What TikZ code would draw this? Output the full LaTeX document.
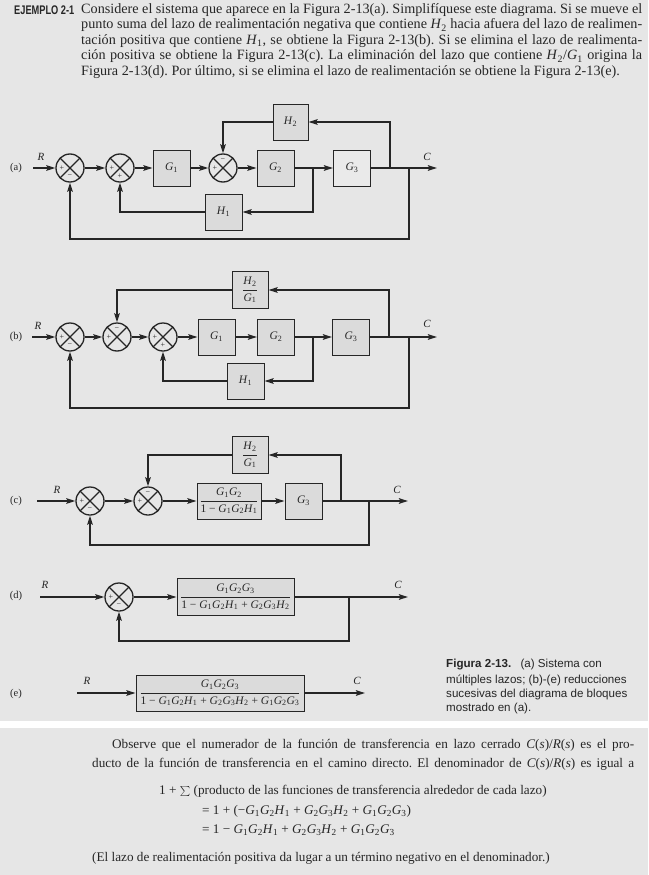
\documentclass[tikz,border=0pt]{standalone}
\usepackage{fontspec}
\setmainfont{Liberation Serif}
\setsansfont{Liberation Sans}
\usepackage{graphicx}
\usetikzlibrary{arrows.meta}
\frenchspacing

\definecolor{pagebg}{RGB}{230,230,230}
\definecolor{boxbg}{RGB}{219,219,219}
\definecolor{boxlt}{RGB}{234,234,234}
\definecolor{ink}{RGB}{38,38,38}

\newcommand{\tfG}[1]{\textit{G}\textsubscript{#1}}
\newcommand{\tfH}[1]{\textit{H}\textsubscript{#1}}
\newcommand{\tffrac}[2]{$\displaystyle\frac{\mbox{#1}}{\mbox{#2}}$}

\tikzset{
  wire/.style={draw=ink, line width=1.7pt},
  arr/.style={-{Stealth[length=9pt,width=5.5pt,inset=1.5pt]}},
  block/.style={draw=ink, line width=1pt, fill=boxbg, minimum width=37pt,
    minimum height=36pt, inner sep=1pt, text=ink, font=\fontsize{11.5}{13}\selectfont},
  sumnode/.style={circle, draw=ink, line width=1.3pt, minimum size=28pt, inner sep=0pt,
    path picture={\draw[ink,line width=1.1pt]
      (path picture bounding box.north west) -- (path picture bounding box.south east)
      (path picture bounding box.north east) -- (path picture bounding box.south west);}},
  sgn/.style={font=\fontsize{8}{8}\selectfont, inner sep=0pt, text=ink},
  tag/.style={font=\fontsize{10.5}{12}\selectfont, text=ink},
  sig/.style={font=\fontsize{11}{12}\selectfont\itshape, text=ink},
  txt/.style={anchor=west, inner sep=0pt, font=\fontsize{14.2}{15}\selectfont, text=ink},
  lowtxt/.style={anchor=west, inner sep=0pt, font=\fontsize{13.2}{15}\selectfont, text=ink},
  capline/.style={anchor=west, inner sep=0pt, font=\sffamily\fontsize{11.6}{14}\selectfont, text=ink},
}

\begin{document}
\begin{tikzpicture}[x=1pt,y=-1pt]
\fill[pagebg] (0,0) rectangle (648,875);
\fill[white] (0,721) rectangle (648,728);
\useasboundingbox (0,0) rectangle (648,875);

% enunciado
\node[txt,font=\fontsize{12.5}{15}\selectfont] (ej) at (14,10) {\scalebox{0.74}[1]{\sffamily\bfseries EJEMPLO 2-1}};
\node[txt] (t1) at (81,10) {\makebox[561pt][s]{Considere el sistema que aparece en la Figura 2-13(a). Simplifíquese este diagrama. Si se mueve el}};
\node[txt] (t2) at (81,25.5) {\makebox[561pt][s]{punto suma del lazo de realimentación negativa que contiene \tfH2 hacia afuera del lazo de realimen-}};
\node[txt] (t3) at (81,41) {\makebox[561pt][s]{tación positiva que contiene \tfH1, se obtiene la Figura 2-13(b). Si se elimina el lazo de realimenta-}};
\node[txt] (t4) at (81,56.5) {\makebox[561pt][s]{ción positiva se obtiene la Figura 2-13(c). La eliminación del lazo que contiene \tfH2/\tfG1 origina la}};
\node[txt] (t5) at (81,72) {Figura 2-13(d). Por último, si se elimina el lazo de realimentación se obtiene la Figura 2-13(e).};

% (a)
\node[tag] (a-tag) at (16,168) {(a)};
\coordinate (a-in) at (33,168);
\node[sumnode] (a-s1) at (70,168) {};
\node[sumnode] (a-s2) at (120,168) {};
\node[block] (a-g1) at (171.5,168) {\tfG1};
\node[sumnode] (a-s3) at (223,168) {};
\node[block] (a-g2) at (275.5,168) {\tfG2};
\node[block,fill=boxlt] (a-g3) at (352,168) {\tfG3};
\node[block,minimum width=35pt] (a-h2) at (290.5,122) {\tfH2};
\node[block] (a-h1) at (223.5,212) {\tfH1};
\coordinate (a-p1) at (313,168);
\coordinate (a-p2) at (390,168);
\coordinate (a-p3) at (409,168);
\coordinate (a-fb) at (409,239);
\coordinate (a-out) at (437,168);
\node[sig] (a-r) at (41,157) {R};
\node[sig] (a-c) at (427,157) {C};
\node[sgn] at ([xshift=-8pt]a-s1.center) {+};
\node[sgn] at ([yshift=-8pt]a-s1.center) {−};
\node[sgn] at ([xshift=-8pt]a-s2.center) {+};
\node[sgn] at ([yshift=-8pt]a-s2.center) {+};
\node[sgn] at ([xshift=-8pt]a-s3.center) {+};
\node[sgn] at ([yshift=8pt]a-s3.center) {−};
\draw[wire,arr] (a-in) -- (a-s1);
\draw[wire,arr] (a-s1) -- (a-s2);
\draw[wire,arr] (a-s2) -- (a-g1);
\draw[wire,arr] (a-g1) -- (a-s3);
\draw[wire,arr] (a-s3) -- (a-g2);
\draw[wire,arr] (a-g2) -- (a-g3);
\draw[wire,arr] (a-g3) -- (a-out);
\draw[wire,arr] (a-p2) |- (a-h2);
\draw[wire,arr] (a-h2) -| (a-s3);
\draw[wire,arr] (a-p1) |- (a-h1);
\draw[wire,arr] (a-h1) -| (a-s2);
\draw[wire,arr] (a-p3) -- (a-fb) -| (a-s1);

% (b)
\node[tag] (b-tag) at (16,337) {(b)};
\coordinate (b-in) at (32,337);
\node[sumnode] (b-s1) at (70,337) {};
\node[sumnode] (b-s2) at (117,337) {};
\node[sumnode] (b-s3) at (163,337) {};
\node[block] (b-g1) at (216.5,337) {\tfG1};
\node[block] (b-g2) at (276,337) {\tfG2};
\node[block] (b-g3) at (351,337) {\tfG3};
\node[block,minimum width=36pt,minimum height=37pt] (b-h2) at (250,290) {\tffrac{\tfH2}{\tfG1}};
\node[block] (b-h1) at (245.5,381) {\tfH1};
\coordinate (b-p1) at (313,337);
\coordinate (b-p2) at (389,337);
\coordinate (b-p3) at (409,337);
\coordinate (b-fb) at (409,408);
\coordinate (b-out) at (437,337);
\node[sig] (b-r) at (38,326) {R};
\node[sig] (b-c) at (427,324) {C};
\node[sgn] at ([xshift=-8pt]b-s1.center) {+};
\node[sgn] at ([yshift=-8pt]b-s1.center) {−};
\node[sgn] at ([xshift=-8pt]b-s2.center) {+};
\node[sgn] at ([yshift=8pt]b-s2.center) {−};
\node[sgn] at ([xshift=-8pt]b-s3.center) {+};
\node[sgn] at ([yshift=-8pt]b-s3.center) {+};
\draw[wire,arr] (b-in) -- (b-s1);
\draw[wire,arr] (b-s1) -- (b-s2);
\draw[wire,arr] (b-s2) -- (b-s3);
\draw[wire,arr] (b-s3) -- (b-g1);
\draw[wire,arr] (b-g1) -- (b-g2);
\draw[wire,arr] (b-g2) -- (b-g3);
\draw[wire,arr] (b-g3) -- (b-out);
\draw[wire,arr] (b-p2) |- (b-h2);
\draw[wire,arr] (b-h2) -| (b-s2);
\draw[wire,arr] (b-p1) |- (b-h1);
\draw[wire,arr] (b-h1) -| (b-s3);
\draw[wire,arr] (b-p3) -- (b-fb) -| (b-s1);

% (c)
\node[tag] (c-tag) at (16,501) {(c)};
\coordinate (c-in) at (37,501);
\node[sumnode] (c-s1) at (90,501) {};
\node[sumnode] (c-s2) at (148,501) {};
\node[block,minimum width=64pt] (c-g12) at (229,501) {\tffrac{\tfG1\tfG2}{1 − \tfG1\tfG2\tfH1}};
\node[block] (c-g3) at (303.5,501) {\tfG3};
\node[block,minimum width=36pt,minimum height=37pt] (c-h2) at (250,455) {\tffrac{\tfH2}{\tfG1}};
\coordinate (c-p2) at (341,501);
\coordinate (c-p3) at (369,501);
\coordinate (c-fb) at (369,545);
\coordinate (c-out) at (408,501);
\node[sig] (c-r) at (57,490) {R};
\node[sig] (c-c) at (397,490) {C};
\node[sgn] at ([xshift=-8pt]c-s1.center) {+};
\node[sgn] at ([yshift=-8pt]c-s1.center) {−};
\node[sgn] at ([xshift=-8pt]c-s2.center) {+};
\node[sgn] at ([yshift=8pt]c-s2.center) {−};
\draw[wire,arr] (c-in) -- (c-s1);
\draw[wire,arr] (c-s1) -- (c-s2);
\draw[wire,arr] (c-s2) -- (c-g12);
\draw[wire,arr] (c-g12) -- (c-g3);
\draw[wire,arr] (c-g3) -- (c-out);
\draw[wire,arr] (c-p2) |- (c-h2);
\draw[wire,arr] (c-h2) -| (c-s2);
\draw[wire,arr] (c-p3) -- (c-fb) -| (c-s1);

% (d)
\node[tag] (d-tag) at (16,596) {(d)};
\coordinate (d-in) at (40,597);
\node[sumnode] (d-s1) at (119,597) {};
\node[block,minimum width=117pt,minimum height=37pt] (d-g) at (235.5,597) {\tffrac{\tfG1\tfG2\tfG3}{1 − \tfG1\tfG2\tfH1 + \tfG2\tfG3\tfH2}};
\coordinate (d-p3) at (349,597);
\coordinate (d-fb) at (349,641);
\coordinate (d-out) at (408,597);
\node[sig] (d-r) at (45,585) {R};
\node[sig] (d-c) at (398,585) {C};
\node[sgn] at ([xshift=-8pt]d-s1.center) {+};
\node[sgn] at ([yshift=-8pt]d-s1.center) {−};
\draw[wire,arr] (d-in) -- (d-s1);
\draw[wire,arr] (d-s1) -- (d-g);
\draw[wire,arr] (d-g) -- (d-out);
\draw[wire,arr] (d-p3) -- (d-fb) -| (d-s1);

% (e)
\node[tag] (e-tag) at (16,694) {(e)};
\coordinate (e-in) at (77,693);
\node[block,minimum width=168pt] (e-g) at (220,693) {\tffrac{\tfG1\tfG2\tfG3}{1 − \tfG1\tfG2\tfH1 + \tfG2\tfG3\tfH2 + \tfG1\tfG2\tfG3}};
\coordinate (e-out) at (365,693);
\node[sig] (e-r) at (87,681) {R};
\node[sig] (e-c) at (357,681) {C};
\draw[wire,arr] (e-in) -- (e-g);
\draw[wire,arr] (e-g) -- (e-out);

% pie de figura
\node[capline] (f1) at (446,665) {\textbf{Figura 2-13.}\hspace{0.8em}(a) Sistema con};
\node[capline] (f2) at (446,680) {múltiples lazos; (b)-(e) reducciones};
\node[capline] (f3) at (446,694) {sucesivas del diagrama de bloques};
\node[capline] (f4) at (446,708) {mostrado en (a).};

% texto inferior
\node[lowtxt] (b1) at (112,745) {\makebox[522pt][s]{Observe que el numerador de la función de transferencia en lazo cerrado \textit{C}(\textit{s})/\textit{R}(\textit{s}) es el pro-}};
\node[lowtxt] (b2) at (92,764) {\makebox[542pt][s]{ducto de la función de transferencia en el camino directo. El denominador de \textit{C}(\textit{s})/\textit{R}(\textit{s}) es igual a}};
\node[lowtxt] (m1) at (159,791) {1 + $\sum$ (producto de las funciones de transferencia alrededor de cada lazo)};
\node[lowtxt] (m2) at (202,811) {= 1 + (−\tfG1\tfG2\tfH1 + \tfG2\tfG3\tfH2 + \tfG1\tfG2\tfG3)};
\node[lowtxt] (m3) at (202,830) {= 1 − \tfG1\tfG2\tfH1 + \tfG2\tfG3\tfH2 + \tfG1\tfG2\tfG3};
\node[lowtxt] (b3) at (92,858) {(El lazo de realimentación positiva da lugar a un término negativo en el denominador.)};
\end{tikzpicture}
\end{document}
